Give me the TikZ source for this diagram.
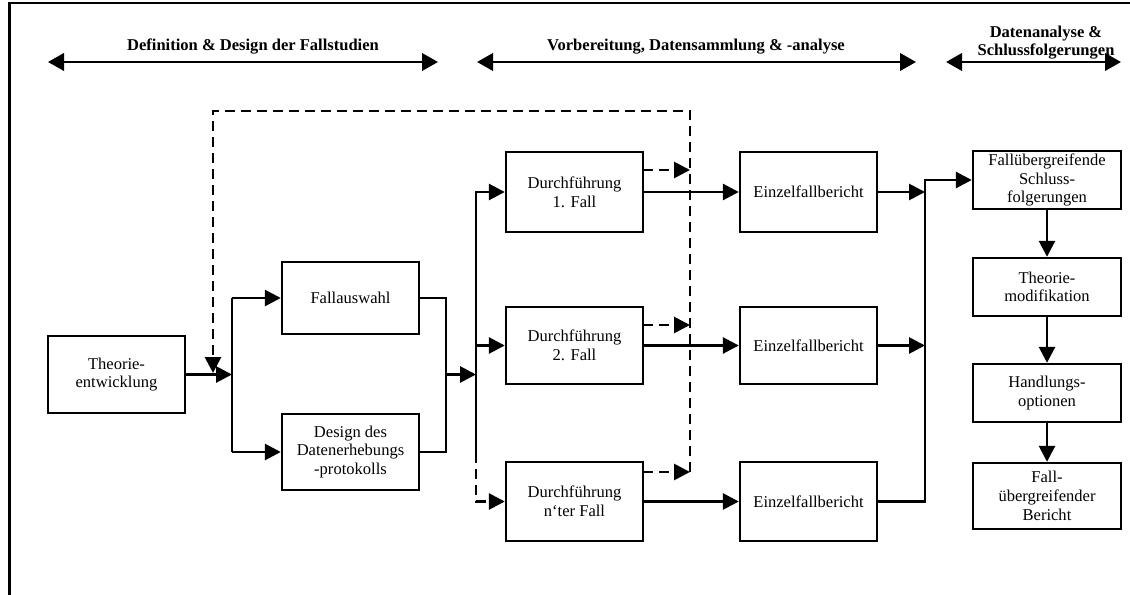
\documentclass[tikz,border=0pt]{standalone}
\usepackage{fontspec}
\setmainfont{Liberation Serif}
\usetikzlibrary{arrows.meta,calc}
\begin{document}
\begin{tikzpicture}[x=0.75pt,y=-0.75pt,
  box/.style={draw, line width=1.8pt, inner sep=0pt, align=center,
    minimum width=102.75pt, font=\fontsize{12.4}{14}\selectfont},
  rbox/.style={box, minimum width=111pt},
  head/.style={align=center, inner sep=0pt, font=\bfseries\fontsize{12.4}{13.6}\selectfont},
  tip/.style={-{Triangle[length=12pt,width=12pt]}},
  ln/.style={line width=2.1pt},
  conn/.style={ln, tip},
  dconn/.style={ln, tip, dash pattern=on 7.5pt off 4.5pt},
  hconn/.style={ln, {Triangle[length=12pt,width=13pt]}-{Triangle[length=12pt,width=13pt]}}
]
\useasboundingbox (0,0) rectangle (1130,595);
% frame
\draw[line width=2.2pt] (9.5,595) -- (9.5,3) -- (1130,3);

% headings
\node[head] (h1) at (253,47) {Definition \& Design der Fallstudien};
\node[head] (h2) at (696,47) {Vorbereitung, Datensammlung \& -analyse};
\node[head] (h3) at (1046,43) {Datenanalyse \&\\Schlussfolgerungen};
\coordinate (a1l) at (48,62);  \coordinate (a1r) at (438,62);
\coordinate (a2l) at (477,62); \coordinate (a2r) at (916,62);
\coordinate (a3l) at (946,62); \coordinate (a3r) at (1121,62);
\draw[hconn] (a1l) -- (a1r);
\draw[hconn] (a2l) -- (a2r);
\draw[hconn] (a3l) -- (a3r);

% boxes
\node[box, minimum height=57.75pt] (th) at (116.5,374.5) {Theorie-\\entwicklung};
\node[box, minimum height=54pt] (fa) at (350.5,298) {Fallauswahl};
\node[box, minimum height=57pt] (de) at (350.5,452) {Design des\\Datenerhebungs\\-protokolls};
\node[box, minimum height=60pt] (d1) at (574.5,192) {Durchführung\\1. Fall};
\node[box, minimum height=57.75pt] (d2) at (574.5,345.5) {Durchführung\\2. Fall};
\node[box, minimum height=59.25pt] (d3) at (574.5,501.5) {Durchführung\\n‘ter Fall};
\node[box, minimum height=60pt] (e1) at (808.5,192) {Einzelfallbericht};
\node[box, minimum height=57.75pt] (e2) at (808.5,345.5) {Einzelfallbericht};
\node[box, minimum height=59.25pt] (e3) at (808.5,501.5) {Einzelfallbericht};
\node[rbox, minimum height=43.5pt] (fu) at (1047,180) {Fallübergreifende\\Schluss-\\folgerungen};
\node[rbox, minimum height=43.5pt] (tm) at (1047,287) {Theorie-\\modifikation};
\node[rbox, minimum height=43.5pt] (ho) at (1047,393) {Handlungs-\\optionen};
\node[rbox, minimum height=49.5pt] (be) at (1047,496) {Fall-\\übergreifender\\Bericht};

% junction coordinates
\coordinate (j1) at (232,374.5);
\coordinate (j1t) at (232,298);
\coordinate (j1b) at (232,452);
\coordinate (j2) at (446,374.5);
\coordinate (j3) at (476,374.5);
\coordinate (j3t) at (476,192);
\coordinate (j3s) at (476,453);
\coordinate (j5) at (925,345.5);
\coordinate (j5t) at (925,180);
\coordinate (fb) at (213,373);
\coordinate (ftl) at (213,111);
\coordinate (ftr) at (690,111);
\coordinate (fbr) at (690,472);
% dashed arrow start/end points
\coordinate (s1) at (643,170); \coordinate (t1) at (690,170);
\coordinate (s2) at (643,325); \coordinate (t2) at (690,325);
\coordinate (s3) at (643,472); \coordinate (t3) at (690,472);

% left part
\draw[conn] (th.east) -- (j1);
\draw[ln] (j1t) -- (j1b);
\draw[conn] (j1t) -- (fa.west);
\draw[conn] (j1b) -- (de.west);
\draw[ln] (fa.east) -| (j2) |- (de.east);
\draw[conn] (j2) -- (j3);

% distribution to cases
\draw[conn] (j3s) -- (j3t) -- (d1.west);
\draw[conn] (j3 |- d2.west) -- (d2.west);
\draw[dconn] (j3s) |- (d3.west);

% feedback (dashed)
\draw[dconn] (s1) -- (t1);
\draw[dconn] (s2) -- (t2);
\draw[dconn] (s3) -- (t3);
\draw[dconn] (fbr) -- (ftr) -- (ftl) -- (fb);

% cases to reports
\draw[conn] (d1.east) -- (e1.west);
\draw[conn] (d2.east) -- (e2.west);
\draw[conn] (d3.east) -- (e3.west);

% reports to cross-case
\draw[conn] (e1.east) -- (e1.east -| j5);
\draw[conn] (e2.east) -- (j5);
\draw[conn] (e3.east) -| (j5t) -- (fu.west);

% right column
\draw[conn] (fu.south) -- (tm.north);
\draw[conn] (tm.south) -- (ho.north);
\draw[conn] (ho.south) -- (be.north);
\end{tikzpicture}
\end{document}
